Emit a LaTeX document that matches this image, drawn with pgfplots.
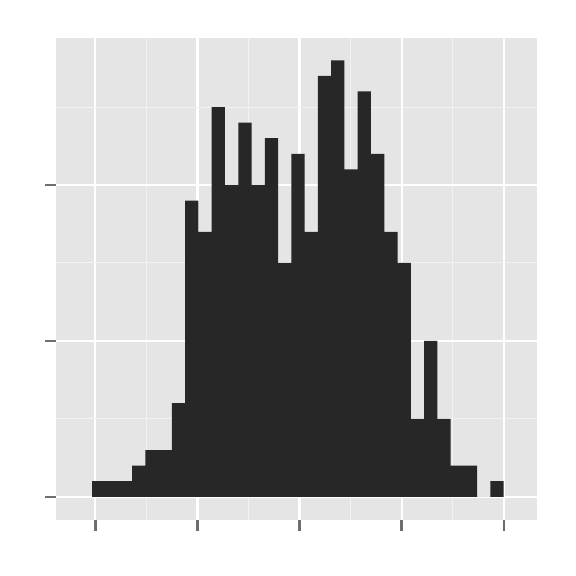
\documentclass[border=0pt]{standalone}
\usepackage{pgfplots}
\pgfplotsset{compat=1.18}
\definecolor{panelc}{HTML}{E5E5E5}
\definecolor{minorc}{HTML}{F2F2F2}
\definecolor{barc}{HTML}{272727}
\definecolor{tickc}{HTML}{6E6E6E}
\begin{document}
\begin{tikzpicture}
\begin{axis}[
  line width=2.4bp,
  scale only axis,
  width=481.3bp, height=481.7bp,
  xmin=-38.5, xmax=432.9,
  ymin=-1.49, ymax=29.41,
  axis background/.style={fill=panelc},
  axis line style={draw=none},
  xtick={0,100,200,300,400},
  ytick={0,10,20},
  minor xtick={50,150,250,350},
  minor ytick={5,15,25},
  xticklabels={}, yticklabels={},
  grid=both,
  major grid style={white, line width=2.2bp},
  minor grid style={minorc, line width=1bp},
  tick align=outside,
  xtick pos=bottom, ytick pos=left,
  major tick length=10.5bp,
  minor tick length=0pt,
  tick style={draw=tickc, line width=2.4bp},
  clip=false,
]
\addplot[ybar interval, fill=barc, draw=none] coordinates {
(-3,1) (10,1) (23,1) (36,2) (49,3) (62,3) (75,6) (88,19) (101,17) (114,25)
(127,20) (140,24) (153,20) (166,23) (179,15) (192,22) (205,17) (218,27) (231,28) (244,21)
(257,26) (270,22) (283,17) (296,15) (309,5) (322,10) (335,5) (348,2) (361,2) (374,0)
(387,1) (400,1)
};
\coordinate (sw) at (rel axis cs:0,0);
\coordinate (ne) at (rel axis cs:1,1);
\end{axis}
\path (sw) ++(-56bp,-56bp);
\path (ne) ++(38.7bp,38.3bp);
\end{tikzpicture}
\end{document}
